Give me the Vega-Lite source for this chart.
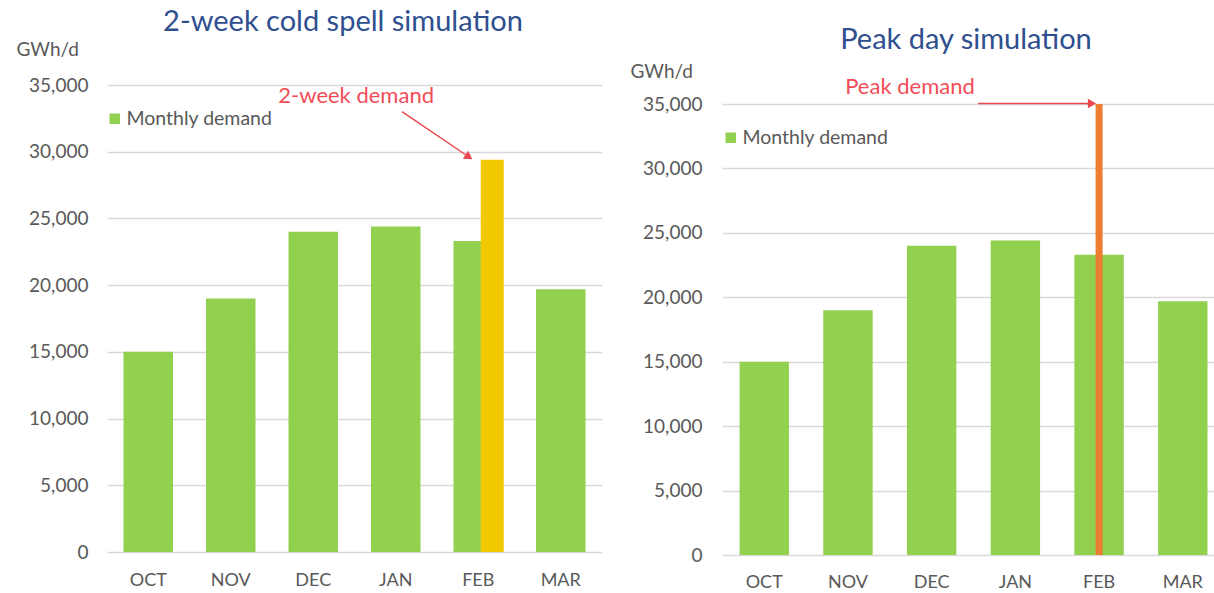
{
  "$schema": "https://vega.github.io/schema/vega-lite/v6.json",
  "background": "white",
  "padding": {"left": 16, "top": 8, "right": 0, "bottom": 0},
  "config": {
    "font": "Lato",
    "view": {"stroke": null},
    "axis": {
      "labelFont": "Lato", "labelColor": "#595959", "labelFontSize": 19,
      "titleFont": "Lato", "titleColor": "#595959", "titleFontWeight": "normal", "titleFontSize": 19,
      "ticks": false, "domain": false, "gridColor": "#D9D9D9", "gridWidth": 1.5
    },
    "legend": {"labelFont": "Lato", "labelColor": "#595959", "labelFontSize": 19.5},
    "title": {"font": "Lato", "fontSize": 29, "fontWeight": "normal", "color": "#2F4F8F"}
  },
  "datasets": {
    "monthly": [
      {"month": "OCT", "demand": 15000},
      {"month": "NOV", "demand": 19000},
      {"month": "DEC", "demand": 24000},
      {"month": "JAN", "demand": 24400},
      {"month": "FEB", "demand": 23300},
      {"month": "MAR", "demand": 19700}
    ],
    "spell": [{"month": "FEB", "demand": 29400}],
    "peak": [{"month": "FEB", "demand": 35000}],
    "leftNote": [{"label": "2-week demand", "pos": 3.02, "demand": 34180}],
    "leftArrow": [{"pos": 3.576, "demand": 33000, "pos2": 4.373, "demand2": 29660}],
    "rightNote": [{"label": "Peak demand", "pos": 2.246, "demand": 36320}],
    "rightArrow": [{"pos": 3.059, "demand": 35040, "pos2": 4.42, "demand2": 35040}]
  },
  "resolve": {"scale": {"color": "independent", "y": "independent", "x": "independent"}, "legend": {"color": "independent"}},
  "spacing": 120,
  "bounds": "flush",
  "hconcat": [
    {
      "width": 495,
      "height": 467,
      "title": {"text": "2-week cold spell simulation", "baseline": "middle", "offset": -11, "dx": -11.5, "frame": "group"},
      "resolve": {"scale": {"x": "independent"}, "axis": {"x": "independent"}},
      "layer": [
        {
          "layer": [
            {
              "data": {"name": "monthly"},
              "mark": {"type": "bar"},
              "encoding": {
                "x": {"field": "month", "type": "nominal", "sort": ["OCT", "NOV", "DEC", "JAN", "FEB", "MAR"],
                      "scale": {"paddingInner": 0.4, "paddingOuter": 0.2},
                      "axis": {"title": null, "labelAngle": 0, "labelPadding": 28, "labelBaseline": "middle", "labelFontSize": 18}},
                "y": {"field": "demand", "type": "quantitative",
                      "scale": {"domain": [0, 35000], "nice": false},
                      "axis": {"title": "GWh/d", "values": [0, 5000, 10000, 15000, 20000, 25000, 30000, 35000], "format": ",.0f",
                               "titleAngle": 0, "titleAlign": "left", "titleBaseline": "middle", "titleX": -91, "titleY": -36,
                               "labelPadding": 19}},
                "color": {"datum": "Monthly demand", "type": "nominal", "scale": {"range": ["#92D050"]},
                          "legend": {"orient": "none", "legendX": -2, "legendY": 24, "title": null, "symbolType": "square",
                                     "symbolSize": 110, "symbolStrokeWidth": 0, "labelOffset": 2, "padding": 0}}
              }
            },
            {
              "data": {"name": "spell"},
              "mark": {"type": "bar", "color": "#F2C800", "width": 23, "xOffset": 14},
              "encoding": {
                "x": {"field": "month", "type": "nominal", "sort": ["OCT", "NOV", "DEC", "JAN", "FEB", "MAR"]},
                "y": {"field": "demand", "type": "quantitative"}
              }
            }
          ]
        },
        {
          "layer": [
            {
              "data": {"name": "leftNote"},
              "mark": {"type": "text", "color": "#F24C57", "fontSize": 22, "align": "center", "baseline": "middle", "font": "Lato"},
              "encoding": {
                "x": {"field": "pos", "type": "quantitative", "scale": {"domain": [0, 6], "nice": false, "zero": false}, "axis": null},
                "y": {"field": "demand", "type": "quantitative"},
                "text": {"field": "label"}
              }
            },
            {
              "data": {"name": "leftArrow"},
              "mark": {"type": "rule", "color": "#E8474F", "strokeWidth": 1.5},
              "encoding": {
                "x": {"field": "pos", "type": "quantitative"},
                "x2": {"field": "pos2"},
                "y": {"field": "demand", "type": "quantitative"},
                "y2": {"field": "demand2"}
              }
            },
            {
              "data": {"name": "leftArrow"},
              "mark": {"type": "point", "shape": "triangle", "filled": true, "color": "#E8474F", "size": 90, "angle": 124, "opacity": 1},
              "encoding": {
                "x": {"field": "pos2", "type": "quantitative"},
                "y": {"field": "demand2", "type": "quantitative"}
              }
            }
          ]
        }
      ]
    },
    {
      "width": 492,
      "height": 470,
      "title": {"text": "Peak day simulation", "baseline": "middle", "offset": -7, "dx": -2, "frame": "group"},
      "resolve": {"scale": {"x": "independent"}, "axis": {"x": "independent"}},
      "layer": [
        {
          "layer": [
            {
              "data": {"name": "monthly"},
              "mark": {"type": "bar"},
              "encoding": {
                "x": {"field": "month", "type": "nominal", "sort": ["OCT", "NOV", "DEC", "JAN", "FEB", "MAR"],
                      "scale": {"paddingInner": 0.41, "paddingOuter": 0.1435, "align": 0.73},
                      "axis": {"title": null, "labelAngle": 0, "labelPadding": 27, "labelBaseline": "middle", "labelFontSize": 18}},
                "y": {"field": "demand", "type": "quantitative",
                      "scale": {"domain": [0, 36475], "nice": false},
                      "axis": {"title": "GWh/d", "values": [0, 5000, 10000, 15000, 20000, 25000, 30000, 35000], "format": ",.0f",
                               "titleAngle": 0, "titleAlign": "left", "titleBaseline": "middle", "titleX": -92, "titleY": -14,
                               "labelPadding": 20}},
                "color": {"datum": "Monthly demand", "type": "nominal", "scale": {"range": ["#92D050"]},
                          "legend": {"orient": "none", "legendX": -1, "legendY": 43, "title": null, "symbolType": "square",
                                     "symbolSize": 110, "symbolStrokeWidth": 0, "labelOffset": 2, "padding": 0}}
              }
            },
            {
              "data": {"name": "peak"},
              "mark": {"type": "bar", "color": "#ED7D31", "width": 7},
              "encoding": {
                "x": {"field": "month", "type": "nominal", "sort": ["OCT", "NOV", "DEC", "JAN", "FEB", "MAR"]},
                "y": {"field": "demand", "type": "quantitative"}
              }
            }
          ]
        },
        {
          "layer": [
            {
              "data": {"name": "rightNote"},
              "mark": {"type": "text", "color": "#F24C57", "fontSize": 22, "align": "center", "baseline": "middle", "font": "Lato"},
              "encoding": {
                "x": {"field": "pos", "type": "quantitative", "scale": {"domain": [0, 5.878], "nice": false, "zero": false}, "axis": null},
                "y": {"field": "demand", "type": "quantitative"},
                "text": {"field": "label"}
              }
            },
            {
              "data": {"name": "rightArrow"},
              "mark": {"type": "rule", "color": "#E8474F", "strokeWidth": 1.5},
              "encoding": {
                "x": {"field": "pos", "type": "quantitative"},
                "x2": {"field": "pos2"},
                "y": {"field": "demand", "type": "quantitative"}
              }
            },
            {
              "data": {"name": "rightArrow"},
              "mark": {"type": "point", "shape": "triangle-right", "filled": true, "color": "#E8474F", "size": 90, "opacity": 1},
              "encoding": {
                "x": {"field": "pos2", "type": "quantitative"},
                "y": {"field": "demand2", "type": "quantitative"}
              }
            }
          ]
        }
      ]
    }
  ]
}
